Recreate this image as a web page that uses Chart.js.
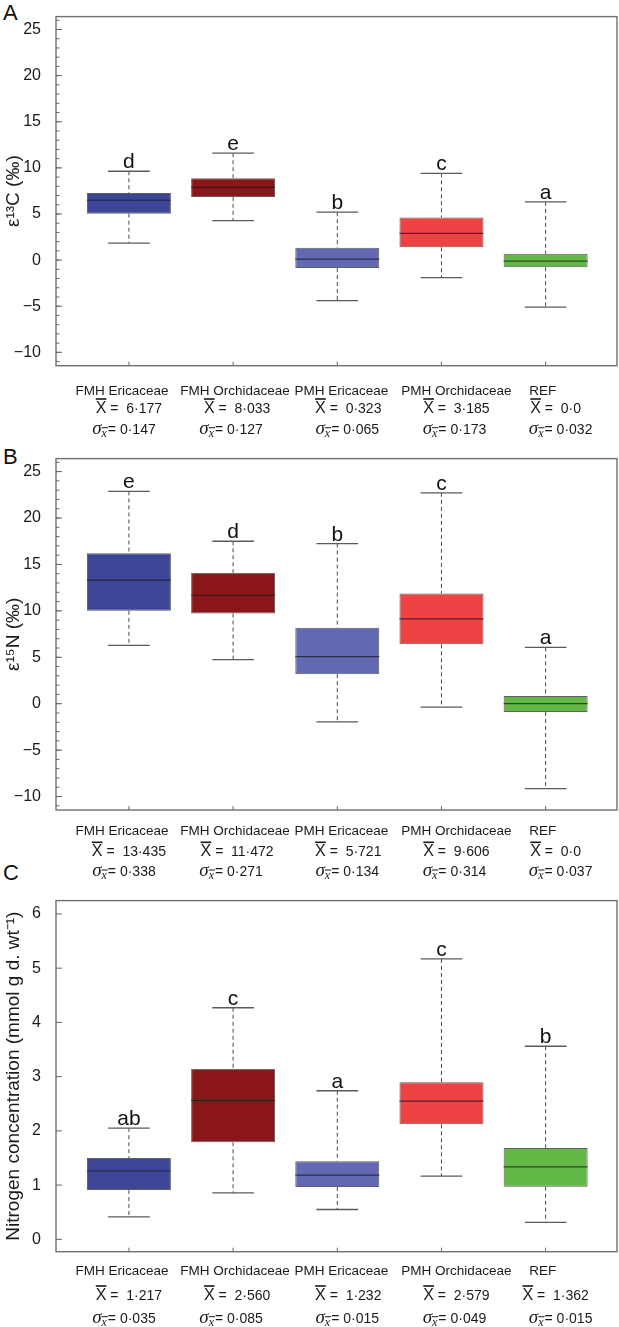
<!DOCTYPE html>
<html>
<head>
<meta charset="utf-8">
<script src="https://cdn.jsdelivr.net/npm/chart.js@4.4.1/dist/chart.umd.min.js"></script>
<style>
  body { margin: 0; background: #fff; width: 619px; height: 1327px; position: relative; overflow: hidden;
         font-family: "Liberation Sans", Arial, sans-serif; }
  .panel { position: absolute; left: 0; width: 619px; }
  .tag { position: absolute; left: 3px; font-size: 22px; line-height: 22px; color: #111; }
</style>
</head>
<body>
<div class="tag" style="top:2px">A</div>
<div class="tag" style="top:446px">B</div>
<div class="tag" style="top:862px">C</div>
<div class="panel" style="top:0;height:442px"><canvas id="chartA" width="619" height="442"></canvas></div>
<div class="panel" style="top:442px;height:442px"><canvas id="chartB" width="619" height="442"></canvas></div>
<div class="panel" style="top:884px;height:443px"><canvas id="chartC" width="619" height="443"></canvas></div>
<script>
// groups and colours
const groups = ['FMH Ericaceae', 'FMH Orchidaceae', 'PMH Ericaceae', 'PMH Orchidaceae', 'REF'];
const boxColors = ['#3d4596', '#8a161a', '#6268b2', '#ee4244', '#62b845'];

// tick labels
const isoTicks = [-10, -5, 0, 5, 10, 15, 20, 25];
const concTicks = [0, 1, 2, 3, 4, 5, 6];

// A: epsilon 13C
const carbonLow = [1.85, 4.28, -4.39, -1.89, -5.1];
const carbonQ1 = [5.03, 6.85, -0.86, 1.39, -0.78];
const carbonMedian = [6.49, 7.88, 0.1, 2.89, -0.11];
const carbonQ3 = [7.27, 8.88, 1.35, 4.63, 0.68];
const carbonHigh = [9.63, 11.59, 5.2, 9.41, 6.31];
const carbonLetters = ['d', 'e', 'b', 'c', 'a'];
const carbonMeans = ['6·177', '8·033', '0·323', '3·185', '0·0'];
const carbonSE = ['0·147', '0·127', '0·065', '0·173', '0·032'];

// B: epsilon 15N
const n15Low = [6.29, 4.75, -1.96, -0.36, -9.14];
const n15Q1 = [10.0, 9.71, 3.18, 6.39, -0.89];
const n15Median = [13.32, 11.68, 5.07, 9.14, 0.0];
const n15Q3 = [16.21, 14.1, 8.18, 11.86, 0.82];
const n15High = [22.86, 17.5, 17.25, 22.71, 6.07];
const n15Letters = ['e', 'd', 'b', 'c', 'a'];
const n15Means = ['13·435', '11·472', '5·721', '9·606', '0·0'];
const n15SE = ['0·338', '0·271', '0·134', '0·314', '0·037'];

// C: nitrogen concentration
const nConcLow = [0.415, 0.855, 0.55, 1.166, 0.311];
const nConcQ1 = [0.91, 1.79, 0.965, 2.12, 0.971];
const nConcMedian = [1.26, 2.56, 1.185, 2.547, 1.337];
const nConcQ3 = [1.5, 3.145, 1.44, 2.895, 1.685];
const nConcHigh = [2.05, 4.27, 2.74, 5.17, 3.56];
const nConcLetters = ['ab', 'c', 'a', 'c', 'b'];
const nConcMeans = ['1·217', '2·560', '1·232', '2·579', '1·362'];
const nConcSE = ['0·035', '0·085', '0·015', '0·049', '0·015'];

// hand-placed text offsets of the original figure (px)
const labelNudge = [-7, 2, 4, 15, -3];
const meanNudge = [0, 4, 11, 15, 10];
const seNudge = [-5, -2, 10, 13, 15];

const SANS = '"Liberation Sans", Arial, sans-serif';
const SERIF = '"Liberation Serif", "Times New Roman", serif';

function line(ctx, x1, y1, x2, y2) {
    ctx.beginPath();
    ctx.moveTo(x1, y1);
    ctx.lineTo(x2, y2);
    ctx.stroke();
}

function drawMean(ctx, cx, base, value) {
    const xFont = '16px ' + SANS, nFont = '14px ' + SANS;
    const rest = ' =  ' + value;
    ctx.font = xFont;
    const wX = ctx.measureText('X').width;
    ctx.font = nFont;
    const wR = ctx.measureText(rest).width;
    const x0 = cx - (wX + wR) / 2;
    ctx.font = xFont;
    ctx.fillText('X', x0, base);
    ctx.fillRect(x0, base - 14.5, wX, 1.6);
    ctx.font = nFont;
    ctx.fillText(rest, x0 + wX, base);
}

function drawSe(ctx, cx, base, value) {
    const sFont = 'italic 19px ' + SERIF, subFont = 'italic 12px ' + SERIF, nFont = '14px ' + SANS;
    const rest = '= ' + value;
    ctx.font = sFont;
    const wS = ctx.measureText('σ').width;
    ctx.font = subFont;
    const wSub = ctx.measureText('x').width;
    ctx.font = nFont;
    const wR = ctx.measureText(rest).width;
    const x0 = cx - (wS + wSub + 1 + wR) / 2;
    ctx.font = sFont;
    ctx.fillText('σ', x0, base);
    ctx.font = subFont;
    ctx.fillText('x', x0 + wS, base + 3);
    ctx.fillRect(x0 + wS, base - 6.5, wSub + 1, 1);
    ctx.font = nFont;
    ctx.fillText(rest, x0 + wS + wSub + 1, base);
}

const boxExtras = {
    id: 'boxExtras',
    afterDatasetsDraw(chart, args, o) {
        const { ctx, scales: { x, y } } = chart;
        const capHalf = x.getPixelForValue(0.2) - x.getPixelForValue(0);
        const boxHalf = x.getPixelForValue(0.403) - x.getPixelForValue(0);
        ctx.save();
        o.high.forEach((hi, i) => {
            const cx = x.getPixelForValue(i);
            const yHi = y.getPixelForValue(hi);
            const yLo = y.getPixelForValue(o.low[i]);
            const yQ3 = y.getPixelForValue(o.q3[i]);
            const yQ1 = y.getPixelForValue(o.q1[i]);
            const yMed = y.getPixelForValue(o.median[i]);

            ctx.strokeStyle = '#4a4a4a';
            ctx.lineWidth = 1;
            ctx.setLineDash([4, 3]);
            line(ctx, cx, yHi, cx, yQ3);
            line(ctx, cx, yQ1, cx, yLo);
            ctx.setLineDash([]);

            ctx.strokeStyle = '#5a5a5a';
            ctx.lineWidth = 1.3;
            line(ctx, cx - capHalf, yHi, cx + capHalf, yHi);
            line(ctx, cx - capHalf, yLo, cx + capHalf, yLo);

            ctx.strokeStyle = 'rgba(20, 20, 30, 0.7)';
            ctx.lineWidth = 1.2;
            line(ctx, cx - boxHalf, yMed, cx + boxHalf, yMed);

            ctx.fillStyle = '#111';
            ctx.font = '21px ' + SANS;
            ctx.textAlign = 'center';
            ctx.textBaseline = 'alphabetic';
            ctx.fillText(o.letters[i], cx, yHi - 3);
        });
        ctx.restore();
    },
    afterDraw(chart, args, o) {
        const { ctx, chartArea: a, scales: { x, y } } = chart;
        ctx.save();
        // frame
        ctx.strokeStyle = '#707070';
        ctx.lineWidth = 1.4;
        ctx.strokeRect(a.left, a.top, a.right - a.left, a.bottom - a.top);

        // inward ticks on the y axis
        ctx.strokeStyle = '#666';
        ctx.lineWidth = 1;
        if (o.minor) {
            for (let k = Math.ceil(y.min / o.minor); k * o.minor <= y.max; k++) {
                const py = y.getPixelForValue(k * o.minor);
                line(ctx, a.left, py, a.left + 3.5, py);
            }
        }
        y.ticks.forEach(t => {
            const py = y.getPixelForValue(t.value);
            line(ctx, a.left, py, a.left + 6, py);
        });
        // inward ticks on the x axis
        groups.forEach((g, i) => {
            const px = x.getPixelForValue(i);
            line(ctx, px, a.bottom, px, a.bottom - 4);
        });

        // group labels and summary rows
        ctx.fillStyle = '#1a1a1a';
        ctx.textBaseline = 'alphabetic';
        groups.forEach((g, i) => {
            const px = x.getPixelForValue(i);
            ctx.textAlign = 'center';
            ctx.font = '13.5px ' + SANS;
            ctx.fillText(g, px + labelNudge[i], a.bottom + o.rows[0]);
            ctx.textAlign = 'left';
            drawMean(ctx, px + meanNudge[i], a.bottom + o.rows[1], o.means[i]);
            drawSe(ctx, px + seNudge[i], a.bottom + o.rows[2], o.se[i]);
        });
        ctx.restore();
    }
};

function makePanel(cfg) {
    const canvas = document.getElementById(cfg.id);
    const H = canvas.height;
    return new Chart(canvas, {
        type: 'bar',
        data: {
            datasets: [{
                data: groups.map((g, i) => ({ x: i, y: [cfg.q1[i], cfg.q3[i]] })),
                backgroundColor: boxColors,
                borderColor: 'rgba(40, 40, 40, 0.75)',
                borderWidth: 1,
                borderSkipped: false,
                categoryPercentage: 1,
                barPercentage: 0.806
            }]
        },
        options: {
            responsive: false,
            animation: false,
            events: [],
            layout: { padding: { top: cfg.top, right: 2, left: 0, bottom: 0 } },
            plugins: {
                legend: { display: false },
                tooltip: { enabled: false },
                boxExtras: cfg
            },
            scales: {
                x: {
                    type: 'linear',
                    offset: false,
                    min: -0.7,
                    max: 4.685,
                    grid: { display: false },
                    border: { display: false },
                    ticks: { display: false },
                    afterBuildTicks: s => { s.ticks = groups.map((g, i) => ({ value: i })); },
                    afterFit: s => { s.height = H - cfg.bottom; }
                },
                y: {
                    min: cfg.min,
                    max: cfg.max,
                    grid: { display: false },
                    border: { display: false },
                    afterBuildTicks: s => { s.ticks = cfg.ticks.map(v => ({ value: v })); },
                    afterFit: s => { s.width = 56; },
                    ticks: {
                        padding: 7,
                        color: '#1a1a1a',
                        font: { family: SANS, size: 16 },
                        callback: v => String(v).replace('-', '\u2212')
                    },
                    title: {
                        display: true,
                        text: cfg.title,
                        color: '#1a1a1a',
                        font: { family: SANS, size: 19 },
                        padding: { top: 2, bottom: 0 }
                    }
                }
            }
        },
        plugins: [boxExtras]
    });
}

makePanel({
    id: 'chartA', title: 'ε¹³C (‰)', min: -11.45, max: 26.4, ticks: isoTicks, minor: 1,
    low: carbonLow, q1: carbonQ1, median: carbonMedian, q3: carbonQ3, high: carbonHigh,
    letters: carbonLetters, means: carbonMeans, se: carbonSE,
    top: 13, bottom: 365.7, rows: [29, 47, 68]
});

makePanel({
    id: 'chartB', title: 'ε¹⁵N (‰)', min: -11.45, max: 26.4, ticks: isoTicks, minor: 1,
    low: n15Low, q1: n15Q1, median: n15Median, q3: n15Q3, high: n15High,
    letters: n15Letters, means: n15Means, se: n15SE,
    top: 14.7, bottom: 368, rows: [24.5, 46, 66]
});

makePanel({
    id: 'chartC', title: 'Nitrogen concentration (mmol g d. wt⁻¹)', min: -0.228, max: 6.246, ticks: concTicks, minor: 0,
    low: nConcLow, q1: nConcQ1, median: nConcMedian, q3: nConcQ3, high: nConcHigh,
    letters: nConcLetters, means: nConcMeans, se: nConcSE,
    top: 15.3, bottom: 367.7, rows: [23, 48, 71]
});
</script>
</body>
</html>
